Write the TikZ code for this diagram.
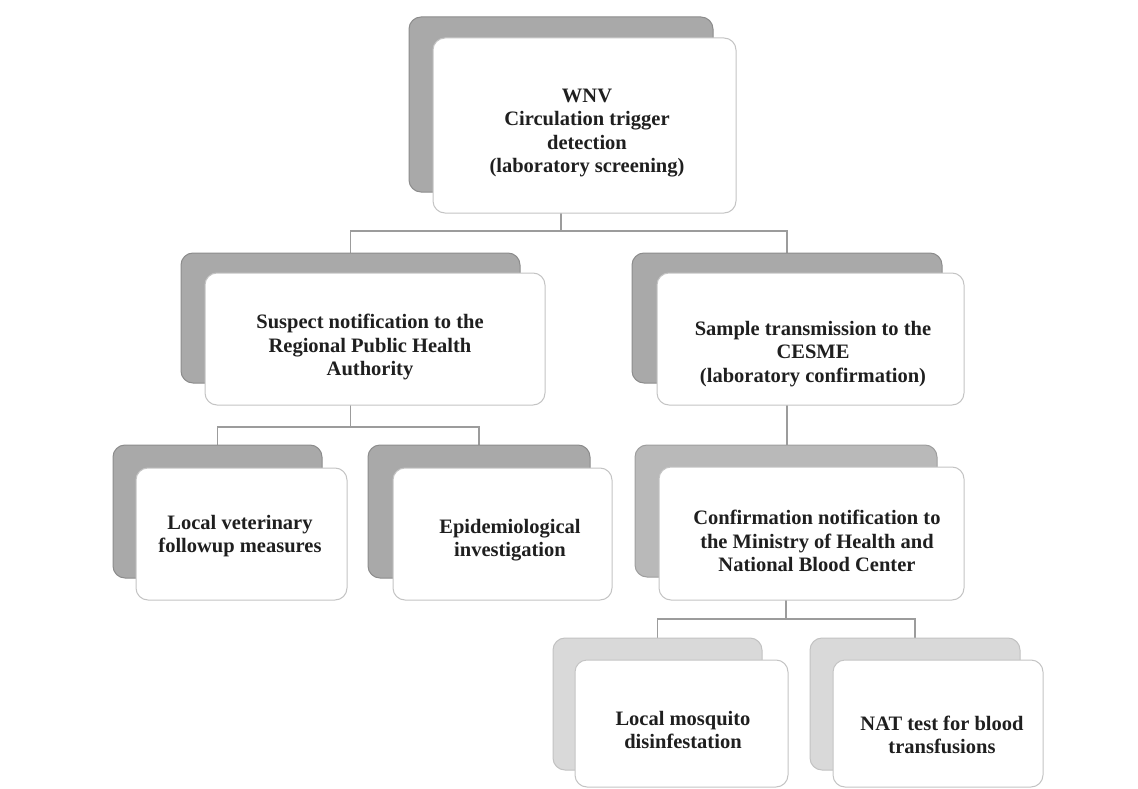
\documentclass[tikz,border=0pt]{standalone}
\usepackage{fontspec}
\setmainfont{Liberation Serif}
\pgfdeclarelayer{background}
\pgfsetlayers{background,main}
\definecolor{backA}{HTML}{A9A9A9}
\definecolor{backAedge}{HTML}{8C8C8C}
\definecolor{backB}{HTML}{B9B9B9}
\definecolor{backBedge}{HTML}{9E9E9E}
\definecolor{backC}{HTML}{D9D9D9}
\definecolor{backCedge}{HTML}{C2C2C2}
\definecolor{frontedge}{HTML}{C4C4C4}
\definecolor{connc}{HTML}{9C9C9C}
\tikzset{
  x=1pt, y=-1pt,
  backbox/.style={rectangle, rounded corners=12pt, inner sep=0pt, outer sep=0pt, line width=1pt},
  backA/.style={backbox, fill=backA, draw=backAedge},
  backB/.style={backbox, fill=backB, draw=backBedge},
  backC/.style={backbox, fill=backC, draw=backCedge},
  frontbox/.style={rectangle, rounded corners=12pt, inner sep=0pt, outer sep=0pt, fill=white, draw=frontedge, line width=1pt},
  label/.style={align=center, inner sep=0pt, font=\fontsize{20.5}{23.5}\selectfont\bfseries, text=black!88},
  conn/.style={draw=connc, line width=1.6pt}
}
\begin{document}
\begin{tikzpicture}
\useasboundingbox (0,0) rectangle (1138,789);
% top
\node[backA, minimum width=304pt, minimum height=175pt] (btop) at (561,104.5) {};
\node[frontbox, minimum width=303pt, minimum height=175pt] (ftop) at (584.5,125.5) {};
\node[label] (ttop) at (587,133) {WNV\\Circulation trigger\\detection\\(laboratory screening)};
% level 2 left
\node[backA, minimum width=339pt, minimum height=130pt] (bsus) at (350.5,318) {};
\node[frontbox, minimum width=340pt, minimum height=132pt] (fsus) at (375,339) {};
\node[label] (tsus) at (370,347) {Suspect notification to the\\Regional Public Health\\Authority};
% level 2 right
\node[backA, minimum width=310pt, minimum height=130pt] (bsam) at (787,318) {};
\node[frontbox, minimum width=307pt, minimum height=132pt] (fsam) at (810.5,339) {};
\node[label] (tsam) at (813,354) {Sample transmission to the\\CESME\\(laboratory confirmation)};
% level 3 left
\node[backA, minimum width=209pt, minimum height=133pt] (blv) at (217.5,511.5) {};
\node[frontbox, minimum width=211pt, minimum height=132pt] (flv) at (241.5,534) {};
\node[label] (tlv) at (240,536) {Local veterinary\\followup measures};
\node[backA, minimum width=222pt, minimum height=133pt] (bepi) at (479,511.5) {};
\node[frontbox, minimum width=219pt, minimum height=132pt] (fepi) at (502.5,534) {};
\node[label] (tepi) at (510,540) {Epidemiological\\investigation};
% level 3 right
\node[backB, minimum width=302pt, minimum height=132pt] (bcon) at (786,511) {};
\node[frontbox, minimum width=305pt, minimum height=133pt] (fcon) at (811.5,533.5) {};
\node[label] (tcon) at (817,541) {Confirmation notification to\\the Ministry of Health and\\National Blood Center};
% level 4
\node[backC, minimum width=209pt, minimum height=132pt] (bmos) at (657.5,704) {};
\node[frontbox, minimum width=213pt, minimum height=127pt] (fmos) at (681.5,723.5) {};
\node[label] (tmos) at (683,730) {Local mosquito\\disinfestation};
\node[backC, minimum width=210pt, minimum height=132pt] (bnat) at (915,704) {};
\node[frontbox, minimum width=210pt, minimum height=127pt] (fnat) at (938,723.5) {};
\node[label] (tnat) at (942,735) {NAT test for blood\\transfusions};
% connectors
\coordinate (j1) at (561,231);
\coordinate (j2) at (350.5,427);
\coordinate (j3) at (786,619);
\begin{pgfonlayer}{background}
\draw[conn] (btop.south) -- (j1);
\draw[conn] (bsus.north) |- (j1) -| (bsam.north);
\draw[conn] (bsus.south) -- (j2);
\draw[conn] (blv.north) |- (j2) -| (bepi.north);
\draw[conn] (bsam.south) -- (bsam.south |- bcon.north);
\draw[conn] (bcon.south) -- (j3);
\draw[conn] (bmos.north) |- (j3) -| (bnat.north);
\end{pgfonlayer}
\end{tikzpicture}
\end{document}
